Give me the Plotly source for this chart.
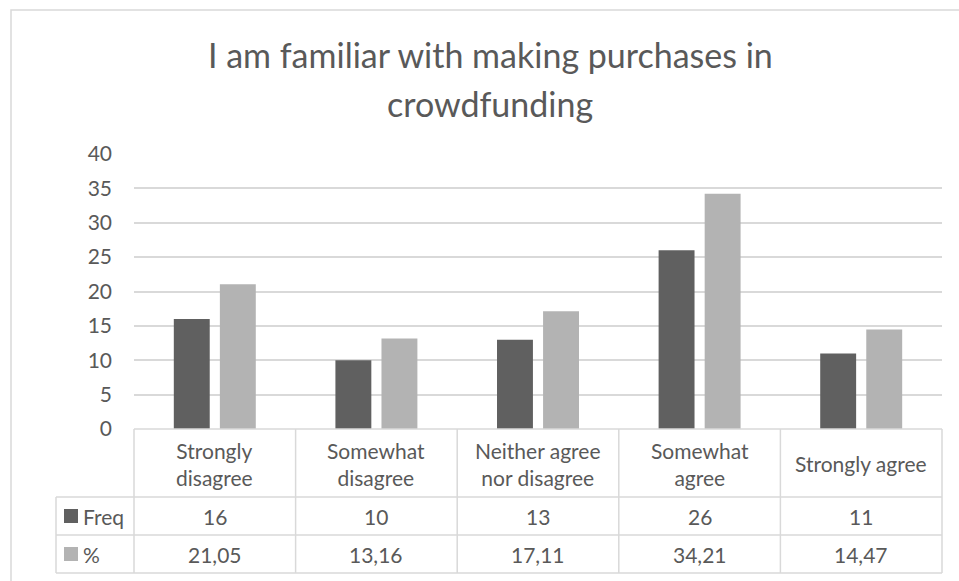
import plotly.graph_objects as go

# ---- data ----
categories = ["Strongly disagree", "Somewhat disagree", "Neither agree nor disagree",
              "Somewhat agree", "Strongly agree"]
header_labels = ["Strongly<br>disagree", "Somewhat<br>disagree", "Neither agree<br>nor disagree",
                 "Somewhat<br>agree", "Strongly agree"]
freq = [16, 10, 13, 26, 11]
pct = [21.05, 13.16, 17.11, 34.21, 14.47]
series_names = ["Freq", "%"]
y_ticks = [0, 5, 10, 15, 20, 25, 30, 35, 40]
title_lines = ["I am familiar with making purchases in", "crowdfunding"]

# ---- style ----
DARK = "#606060"
LIGHT = "#b3b3b3"
TEXT = "#595959"
GRID = "#d9d9d9"
FONT = "Lato"
TABLE_SIZE = 21
TITLE_SIZE = 34

W, H = 959, 581
L, R, T, B = 134, 17, 154, 152
PW, PH = W - L - R, H - T - B


def px_x(px):
    """pixel column -> paper x"""
    return (px - L) / PW


def px_y(py):
    """pixel row -> paper y"""
    return (H - B - py) / PH


def fmt_pct(v):
    return f"{v:.2f}".replace(".", ",")


fig = go.Figure()
fig.add_trace(go.Bar(x=categories, y=freq, name=series_names[0],
                     marker=dict(color=DARK, line=dict(width=0))))
fig.add_trace(go.Bar(x=categories, y=pct, name=series_names[1],
                     marker=dict(color=LIGHT, line=dict(width=0))))

shapes = []
annotations = []

# data table: row boundaries (pixel rows)
ROW_TOP, ROW_1, ROW_2, ROW_BOT = 430, 497, 535, 573
LEFT_COL = 56
line_style = dict(color=GRID, width=1.5)

# horizontal rules
shapes.append(dict(type="line", xref="paper", yref="paper", x0=0, x1=1,
                   y0=0, y1=0, line=line_style))
for ry in (ROW_1, ROW_2, ROW_BOT):
    shapes.append(dict(type="line", xref="paper", yref="paper",
                       x0=px_x(LEFT_COL), x1=1, y0=px_y(ry), y1=px_y(ry), line=line_style))
# vertical rules between categories
for i in range(1, len(categories)):
    shapes.append(dict(type="line", xref="x", yref="paper", x0=i - 0.5, x1=i - 0.5,
                       y0=0, y1=px_y(ROW_BOT), line=line_style))
for xp in (0, 1):
    shapes.append(dict(type="line", xref="paper", yref="paper", x0=xp, x1=xp,
                       y0=0, y1=px_y(ROW_BOT), line=line_style))
shapes.append(dict(type="line", xref="paper", yref="paper", x0=px_x(LEFT_COL), x1=px_x(LEFT_COL),
                   y0=px_y(ROW_1), y1=px_y(ROW_BOT), line=line_style))

# header row: category names
for cat, lab in zip(categories, header_labels):
    annotations.append(dict(x=cat, xref="x", y=px_y((ROW_TOP + ROW_1) / 2), yref="paper",
                            text=lab, showarrow=False, xanchor="center", yanchor="middle",
                            font=dict(family=FONT, size=TABLE_SIZE, color=TEXT)))

# value rows
rows = [(freq, [str(v) for v in freq], DARK, series_names[0], (ROW_1 + ROW_2) / 2),
        (pct, [fmt_pct(v) for v in pct], LIGHT, series_names[1], (ROW_2 + ROW_BOT) / 2)]
for values, labels, color, name, cy in rows:
    for cat, lab in zip(categories, labels):
        annotations.append(dict(x=cat, xref="x", y=px_y(cy), yref="paper", text=lab,
                                showarrow=False, xanchor="center", yanchor="middle",
                                font=dict(family=FONT, size=TABLE_SIZE, color=TEXT)))
    # legend key in the left column
    shapes.append(dict(type="rect", xref="paper", yref="paper",
                       x0=px_x(64), x1=px_x(78), y0=px_y(cy + 7), y1=px_y(cy - 7),
                       fillcolor=color, line=dict(width=0)))
    annotations.append(dict(x=px_x(81), xref="paper", y=px_y(cy), yref="paper", text=name,
                            showarrow=False, xanchor="left", yanchor="middle",
                            font=dict(family=FONT, size=TABLE_SIZE, color=TEXT)))

# chart frame
shapes.append(dict(type="rect", xref="paper", yref="paper", x0=px_x(11), x1=px_x(W + 20),
                   y0=px_y(H + 20), y1=px_y(10), line=line_style, fillcolor="rgba(0,0,0,0)",
                   layer="below"))

# title, two lines
for text, cy in zip(title_lines, (55, 104)):
    annotations.append(dict(x=px_x(490), xref="paper", y=px_y(cy), yref="paper", text=text,
                            showarrow=False, xanchor="center", yanchor="middle",
                            font=dict(family=FONT, size=TITLE_SIZE, color=TEXT)))

fig.update_layout(
    width=W, height=H,
    margin=dict(l=L, r=R, t=T, b=B),
    paper_bgcolor="white", plot_bgcolor="white",
    barmode="group", bargap=0.43, bargroupgap=0.22,
    showlegend=False,
    shapes=shapes, annotations=annotations,
    font=dict(family=FONT, color=TEXT),
)
fig.update_xaxes(showticklabels=False, showgrid=False, showline=False, zeroline=False,
                 ticks="", range=[-0.5, len(categories) - 0.5])
fig.update_yaxes(range=[0, 40], tickvals=y_ticks, showgrid=True, gridcolor=GRID, gridwidth=1.5,
                 zeroline=False, showline=False, ticks="", ticklabelstandoff=21,
                 tickfont=dict(family=FONT, size=TABLE_SIZE, color=TEXT))

fig.write_html("out.html")
